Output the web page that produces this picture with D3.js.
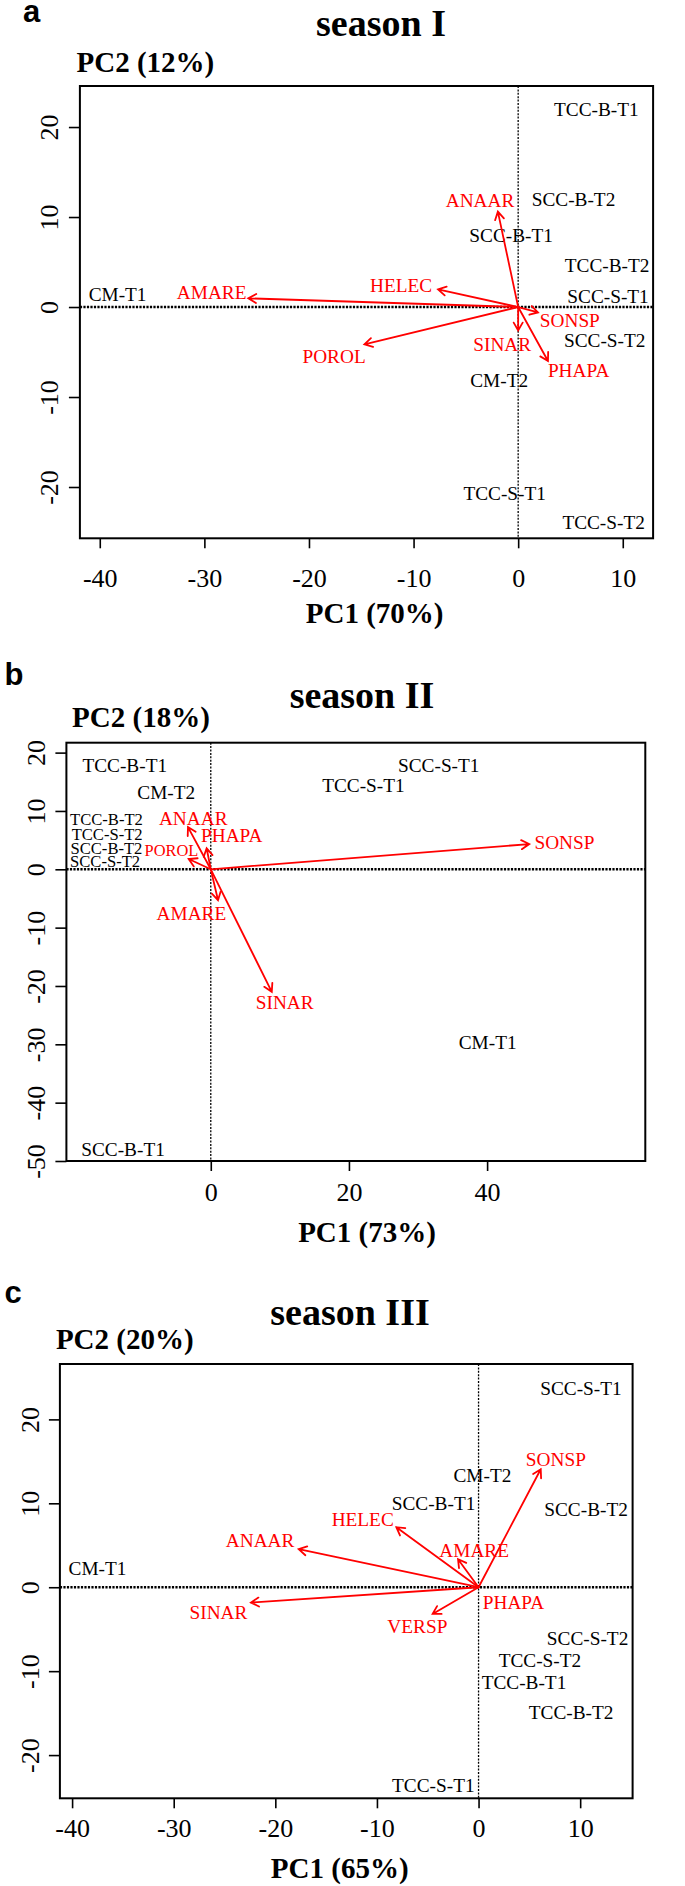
<!DOCTYPE html>
<html>
<head>
<meta charset="utf-8">
<script src="https://cdn.jsdelivr.net/npm/d3@7"></script>
<style>
  html, body { margin: 0; padding: 0; background: #fff; }
  svg { display: block; }
</style>
</head>
<body>
<script>
// ---------- Panel a : season I ----------
const sitesA = ["TCC-B-T1","SCC-B-T2","SCC-B-T1","TCC-B-T2","SCC-S-T1","CM-T1","SCC-S-T2","CM-T2","TCC-S-T1","TCC-S-T2"];
const sitesA_pc1 = [7.48, 5.29, -0.67, 8.5, 8.59, -38.3, 8.27, -1.82, -1.29, 8.17];
const sitesA_pc2 = [22.0, 12.0, 8.0, 4.6, 1.2, 1.4, -3.7, -8.2, -20.7, -23.9];
const speciesA = ["ANAAR","HELEC","AMARE","SONSP","SINAR","PHAPA","POROL"];
const speciesA_pc1 = [-1.94, -7.66, -25.8, 1.9, 0.0, 2.85, -14.7];
const speciesA_pc2 = [10.6, 1.97, 0.97, -0.6, -2.6, -6.0, -4.15];
const speciesA_labPc1 = [-3.65, -11.2, -29.3, 4.94, -1.53, 5.78, -17.6];
const speciesA_labPc2 = [11.8, 2.37, 1.63, -1.44, -4.14, -7.0, -5.52];
const ticksA_x = [-40, -30, -20, -10, 0, 10];
const ticksA_y = [-20, -10, 0, 10, 20];
const limA_x = [-41.9, 12.9];
const limA_y = [-25.7, 24.56];

// ---------- Panel b : season II ----------
const sitesB = ["TCC-B-T1","CM-T2","SCC-S-T1","TCC-S-T1","TCC-B-T2","TCC-S-T2","SCC-B-T2","SCC-S-T2","SCC-B-T1","CM-T1"];
const sitesB_pc1 = [-12.45, -6.45, 33.0, 22.1, -15.1, -15.0, -15.1, -15.3, -12.7, 40.08];
const sitesB_pc2 = [17.8, 13.1, 17.8, 14.3, 8.5, 6.0, 3.6, 1.35, -48.0, -29.7];
const sitesB_cex = [1, 1, 1, 1, 0.86, 0.86, 0.86, 0.86, 1, 1];
const speciesB = ["SONSP","ANAAR","PHAPA","POROL","AMARE","SINAR"];
const speciesB_pc1 = [46.1, -3.3, -0.6, -3.2, 1.05, 8.83];
const speciesB_pc2 = [4.33, 7.24, 3.6, 1.76, -5.3, -21.0];
const speciesB_labPc1 = [51.2, -2.54, 3.03, -5.69, -2.8, 10.7];
const speciesB_labPc2 = [4.6, 8.8, 5.75, 3.2, -7.5, -22.9];
const speciesB_cex = [1, 1, 1, 0.85, 1, 1];
const ticksB_x = [0, 20, 40];
const ticksB_y = [-50, -40, -30, -20, -10, 0, 10, 20];
const limB_x = [-20.9, 62.9];
const limB_y = [-50, 21.7];

// ---------- Panel c : season III ----------
const sitesC = ["SCC-S-T1","CM-T2","SCC-B-T1","SCC-B-T2","CM-T1","SCC-S-T2","TCC-S-T2","TCC-B-T1","TCC-B-T2","TCC-S-T1"];
const sitesC_pc1 = [10.08, 0.38, -4.43, 10.58, -37.5, 10.73, 6.04, 4.47, 9.11, -4.45];
const sitesC_pc2 = [23.66, 13.29, 9.96, 9.27, 2.2, -6.16, -8.7, -11.35, -14.9, -23.66];
const speciesC = ["SONSP","HELEC","ANAAR","AMARE","SINAR","VERSP","PHAPA"];
const speciesC_pc1 = [6.12, -8.09, -17.7, -2.02, -22.4, -4.52, 0];
const speciesC_pc2 = [14.06, 7.15, 4.53, 3.34, -1.83, -3.18, 0];
const speciesC_labPc1 = [7.61, -11.4, -21.5, -0.43, -25.6, -6.02, 3.44];
const speciesC_labPc2 = [15.26, 8.02, 5.55, 4.36, -2.98, -4.7, -1.83];
const ticksC_x = [-40, -30, -20, -10, 0, 10];
const ticksC_y = [-20, -10, 0, 10, 20];
const limC_x = [-41.2, 15.16];
const limC_y = [-25.15, 26.6];

const SERIF = "'Liberation Serif', 'Times New Roman', serif";
const SANS = "'Liberation Sans', Arial, sans-serif";
const LABEL_FS = 19.3;
const TICK_FS = 26;

const svg = d3.select("body").append("svg")
  .attr("width", 685).attr("height", 1886)
  .attr("viewBox", "0 0 685 1886");
svg.append("rect").attr("width", 685).attr("height", 1886).attr("fill", "#fff");

function panel(o) {
  const x = d3.scaleLinear().domain(o.xlim).range([o.left, o.right]);
  const y = d3.scaleLinear().domain(o.ylim).range([o.bottom, o.top]);
  const g = svg.append("g");

  // panel letter
  g.append("text").attr("x", o.letterX).attr("y", o.letterY)
    .attr("font-family", SANS).attr("font-weight", "bold").attr("font-size", 31)
    .text(o.letter);
  // title
  g.append("text").attr("x", o.titleX).attr("y", o.titleY)
    .attr("text-anchor", "middle")
    .attr("font-family", SERIF).attr("font-weight", "bold").attr("font-size", 38)
    .text(o.title);
  // PC2 label
  g.append("text").attr("x", o.pc2X).attr("y", o.pc2Y)
    .attr("font-family", SERIF).attr("font-weight", "bold").attr("font-size", 29)
    .text(o.pc2);
  // PC1 label
  g.append("text").attr("x", o.pc1X).attr("y", o.pc1Y)
    .attr("text-anchor", "middle")
    .attr("font-family", SERIF).attr("font-weight", "bold").attr("font-size", 29)
    .text(o.pc1);

  // reference lines
  g.append("line")
    .attr("x1", o.left).attr("x2", o.right)
    .attr("y1", y(0)).attr("y2", y(0))
    .attr("stroke", "#000").attr("stroke-width", 2.6)
    .attr("stroke-dasharray", "2.2,1.3");
  g.append("line")
    .attr("x1", x(0)).attr("x2", x(0))
    .attr("y1", o.top).attr("y2", o.bottom)
    .attr("stroke", "#000").attr("stroke-width", 1.3)
    .attr("stroke-dasharray", "2,1.4");

  // x axis
  const ax = g.append("g").attr("transform", `translate(0,${o.bottom})`)
    .call(d3.axisBottom(x).tickValues(o.xticks).tickSize(10).tickFormat(d => String(d)));
  ax.select(".domain").remove();
  ax.selectAll(".tick line").attr("stroke", "#000").attr("stroke-width", 1.6);
  ax.selectAll(".tick text")
    .attr("y", o.xlabBase - o.bottom).attr("dy", 0)
    .attr("font-family", SERIF).attr("font-size", TICK_FS).attr("fill", "#000");

  // y axis
  const ay = g.append("g").attr("transform", `translate(${o.left},0)`)
    .call(d3.axisLeft(y).tickValues(o.yticks).tickSize(11).tickFormat(d => String(d)));
  ay.select(".domain").remove();
  ay.selectAll(".tick line").attr("stroke", "#000").attr("stroke-width", 1.6);
  ay.selectAll(".tick text")
    .attr("x", 0).attr("y", 0).attr("dy", 0)
    .attr("text-anchor", "middle")
    .attr("transform", `translate(${o.ylabBase - o.left},0) rotate(-90)`)
    .attr("font-family", SERIF).attr("font-size", TICK_FS).attr("fill", "#000");

  // site labels
  g.append("g").selectAll("text").data(o.sites).join("text")
    .attr("x", (d, i) => x(o.sx[i]))
    .attr("y", (d, i) => y(o.sy[i]) + 0.34 * LABEL_FS * (o.scex ? o.scex[i] : 1))
    .attr("text-anchor", "middle")
    .attr("font-family", SERIF)
    .attr("font-size", (d, i) => LABEL_FS * (o.scex ? o.scex[i] : 1))
    .attr("fill", "#000")
    .text(d => d);

  // species arrows
  const arr = g.append("g").attr("stroke", "#ff0000").attr("stroke-width", 1.8)
    .attr("fill", "none").attr("stroke-linecap", "round");
  o.species.forEach((d, i) => {
    const x0 = x(0), y0 = y(0), x1 = x(o.vx[i]), y1 = y(o.vy[i]);
    const L = Math.hypot(x1 - x0, y1 - y0);
    if (L < 1) return;
    const a = Math.atan2(y1 - y0, x1 - x0);
    const h = 9, w = Math.PI / 6;
    const p = d3.path();
    p.moveTo(x0, y0); p.lineTo(x1, y1);
    p.moveTo(x1 - h * Math.cos(a - w), y1 - h * Math.sin(a - w));
    p.lineTo(x1, y1);
    p.lineTo(x1 - h * Math.cos(a + w), y1 - h * Math.sin(a + w));
    arr.append("path").attr("d", p.toString());
  });
  g.append("g").selectAll("text").data(o.species).join("text")
    .attr("x", (d, i) => x(o.lx[i]))
    .attr("y", (d, i) => y(o.ly[i]) + 0.34 * LABEL_FS * (o.vcex ? o.vcex[i] : 1))
    .attr("text-anchor", "middle")
    .attr("font-family", SERIF)
    .attr("font-size", (d, i) => LABEL_FS * (o.vcex ? o.vcex[i] : 1))
    .attr("fill", "#ff0000")
    .text(d => d);

  // box
  g.append("rect")
    .attr("x", o.left).attr("y", o.top)
    .attr("width", o.right - o.left).attr("height", o.bottom - o.top)
    .attr("fill", "none").attr("stroke", "#000").attr("stroke-width", 2);
}

panel({
  letter: "a", letterX: 23, letterY: 22,
  title: "season I", titleX: 381, titleY: 36,
  pc2: "PC2 (12%)", pc2X: 76.5, pc2Y: 71.7,
  pc1: "PC1 (70%)", pc1X: 374.6, pc1Y: 623.3,
  left: 79.9, right: 653.1, top: 86, bottom: 538.3,
  xlim: limA_x, ylim: limA_y, xticks: ticksA_x, yticks: ticksA_y,
  xlabBase: 587, ylabBase: 58,
  sites: sitesA, sx: sitesA_pc1, sy: sitesA_pc2,
  species: speciesA, vx: speciesA_pc1, vy: speciesA_pc2, lx: speciesA_labPc1, ly: speciesA_labPc2
});

panel({
  letter: "b", letterX: 4.4, letterY: 685,
  title: "season II", titleX: 362, titleY: 708.3,
  pc2: "PC2 (18%)", pc2X: 72.1, pc2Y: 726.7,
  pc1: "PC1 (73%)", pc1X: 367, pc1Y: 1241.7,
  left: 66.4, right: 645.3, top: 742.7, bottom: 1161,
  xlim: limB_x, ylim: limB_y, xticks: ticksB_x, yticks: ticksB_y,
  xlabBase: 1200.5, ylabBase: 45,
  sites: sitesB, sx: sitesB_pc1, sy: sitesB_pc2, scex: sitesB_cex,
  species: speciesB, vx: speciesB_pc1, vy: speciesB_pc2, lx: speciesB_labPc1, ly: speciesB_labPc2, vcex: speciesB_cex
});

panel({
  letter: "c", letterX: 4.4, letterY: 1303.3,
  title: "season III", titleX: 350, titleY: 1325,
  pc2: "PC2 (20%)", pc2X: 55.9, pc2Y: 1349.3,
  pc1: "PC1 (65%)", pc1X: 339.7, pc1Y: 1878,
  left: 59.9, right: 632.6, top: 1364, bottom: 1798.3,
  xlim: limC_x, ylim: limC_y, xticks: ticksC_x, yticks: ticksC_y,
  xlabBase: 1836.7, ylabBase: 38.5,
  sites: sitesC, sx: sitesC_pc1, sy: sitesC_pc2,
  species: speciesC, vx: speciesC_pc1, vy: speciesC_pc2, lx: speciesC_labPc1, ly: speciesC_labPc2
});
</script>
</body>
</html>
